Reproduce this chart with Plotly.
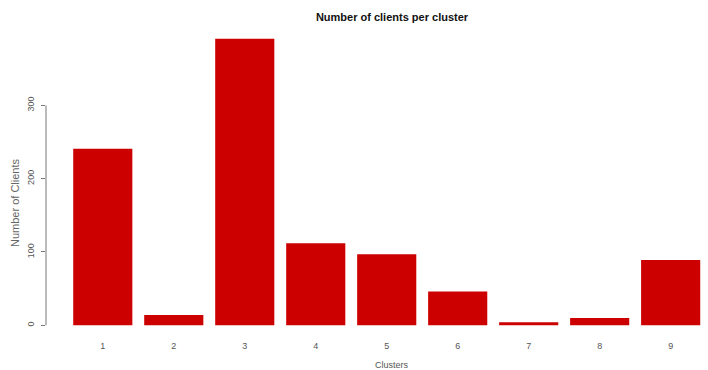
import plotly.graph_objects as go

# Cluster sizes
clusters = ["1", "2", "3", "4", "5", "6", "7", "8", "9"]
clients = [241, 14, 391, 112, 97, 46, 4, 10, 89]
y_ticks = [0, 100, 200, 300]

x_pos = list(range(1, len(clusters) + 1))

fig = go.Figure(
    go.Bar(
        x=x_pos,
        y=clients,
        width=0.833,
        marker=dict(color="#CD0000", line=dict(width=0)),
        hoverinfo="x+y",
    )
)

fig.update_layout(
    width=708,
    height=370,
    margin=dict(l=46, r=0, t=27, b=33),
    paper_bgcolor="white",
    plot_bgcolor="white",
    font=dict(family="Liberation Sans, Arial, sans-serif", color="#444"),
    showlegend=False,
    title=dict(
        text="<b>Number of clients per cluster</b>",
        x=392 / 708,
        xref="container",
        xanchor="center",
        y=1 - 17 / 370,
        yref="container",
        yanchor="middle",
        font=dict(size=11, color="#111"),
    ),
    xaxis=dict(
        range=[0.2, 9.526],
        tickmode="array",
        tickvals=x_pos,
        ticktext=clusters,
        ticks="",
        showline=False,
        showgrid=False,
        zeroline=False,
        tickfont=dict(size=9, color="#555"),
        ticklabelstandoff=2,
    ),
    yaxis=dict(
        range=[-16, 407],
        tickmode="array",
        tickvals=y_ticks,
        ticktext=[str(v) for v in y_ticks],
        tickangle=-90,
        ticks="outside",
        ticklen=4,
        tickcolor="#777",
        tickwidth=1,
        showline=False,
        showgrid=False,
        zeroline=False,
        tickfont=dict(size=9, color="#555"),
        ticklabelstandoff=3,
    ),
    shapes=[
        # y axis line spanning only the labelled tick range
        dict(
            type="line",
            xref="paper",
            yref="y",
            x0=0,
            x1=0,
            y0=min(y_ticks),
            y1=max(y_ticks),
            line=dict(color="#777", width=1),
        )
    ],
    annotations=[
        dict(
            text="Clusters",
            xref="paper",
            yref="paper",
            x=(392 - 46) / 662,
            y=-(365 - 337) / 310,
            xanchor="center",
            yanchor="middle",
            showarrow=False,
            font=dict(size=9, color="#555"),
        ),
        dict(
            text="Number of Clients",
            xref="paper",
            yref="paper",
            x=-(46 - 15) / 662,
            y=(337 - 203) / 310,
            xanchor="center",
            yanchor="middle",
            textangle=-90,
            showarrow=False,
            font=dict(size=11, color="#666"),
        ),
    ],
)

fig.write_html("out.html")
